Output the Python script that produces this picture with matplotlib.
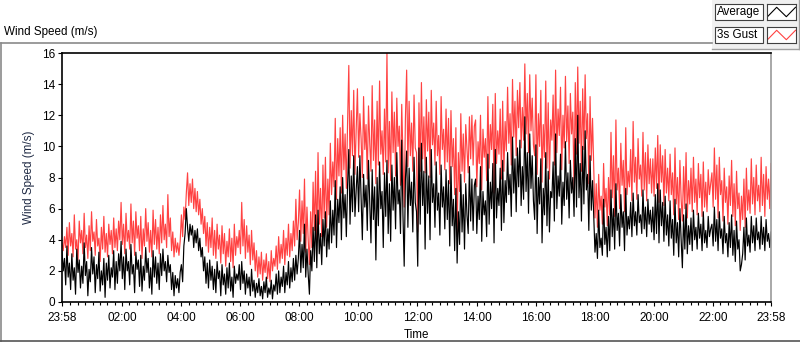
import numpy as np
import matplotlib as mpl; mpl.use('Agg'); import matplotlib.pyplot as plt
from matplotlib.patches import Rectangle
from matplotlib.lines import Line2D
mpl.rcParams.update({'font.family':['Liberation Sans','DejaVu Sans'],'font.size':8.5})

# 2.5-minute samples starting at 23:58, one row = 2 hours (48 samples)
gust=[3.8,3.3,4.2,3.5,4.8,3.0,5.1,3.6,4.4,2.9,5.6,3.4,4.0,2.7,5.2,3.8,4.6,3.1,5.7,3.5,4.3,2.8,4.9,3.3,5.8,3.9,4.5,3.0,5.3,3.6,4.1,2.6,4.8,3.4,5.5,3.2,4.4,2.9,5.0,3.7,4.6,3.1,5.4,3.5,4.7,3.3,5.2,4.0,
      6.4,3.7,5.0,3.1,5.7,3.9,4.6,3.4,6.3,3.8,5.2,3.0,5.8,4.1,4.9,3.3,5.5,2.8,4.7,3.6,6.0,3.9,5.1,3.2,4.6,2.9,5.9,3.7,5.3,3.4,4.8,3.1,5.6,3.8,6.2,4.0,5.0,3.5,6.9,4.2,5.4,3.3,4.5,2.9,4.1,3.2,3.8,3.0,
      3.9,5.6,4.2,6.1,5.3,7.0,8.3,6.2,7.6,6.4,7.9,6.0,7.3,5.8,7.1,5.6,6.6,5.0,6.0,4.4,5.5,3.6,5.1,3.2,4.8,3.5,5.4,3.0,4.6,2.8,5.0,3.4,4.3,2.5,4.9,3.1,4.4,2.3,3.9,2.9,4.7,2.6,4.1,2.2,5.0,3.0,4.2,3.5,
      4.6,3.1,6.4,3.6,5.3,2.8,4.9,3.2,4.3,2.4,4.6,2.7,3.8,2.0,3.3,1.6,2.9,1.8,3.2,1.4,2.7,1.9,3.1,1.5,2.6,1.3,3.3,2.0,2.8,2.3,3.6,2.1,4.2,2.5,3.7,2.8,4.6,2.4,4.1,3.0,5.0,2.9,4.4,3.3,5.2,3.6,6.6,4.0,
      5.1,7.2,3.9,6.5,4.4,7.9,3.2,6.1,4.0,2.4,5.8,3.5,7.7,4.6,8.4,3.8,9.6,5.0,7.3,4.2,8.8,5.4,9.3,4.8,7.9,5.6,10.2,6.9,9.0,7.4,11.8,6.6,10.5,8.1,11.2,7.0,12.0,8.5,10.8,7.3,11.5,15.2,8.6,12.3,9.4,13.6,8.2,11.1,
      13.7,9.3,12.1,10.5,8.0,13.2,9.8,11.4,7.9,12.6,10.2,8.4,13.9,9.1,11.7,7.6,12.9,8.8,14.2,9.5,11.0,8.2,12.4,9.0,16.0,8.3,11.6,7.8,13.5,9.6,12.2,8.1,13.1,10.0,11.3,7.5,12.7,9.2,6.1,11.8,14.9,8.7,12.9,9.4,11.5,8.4,13.3,9.9,
      9.6,4.5,12.8,8.4,14.1,9.2,11.9,8.3,13.0,9.7,12.2,8.0,13.6,10.1,11.5,8.8,12.9,9.4,10.7,8.2,13.2,9.8,11.1,8.5,12.4,9.0,11.8,7.6,12.3,8.7,10.5,6.9,11.2,4.2,9.6,7.1,12.1,8.4,10.8,7.7,11.4,9.9,8.3,11.9,9.2,12.0,8.8,11.3,
      11.7,7.4,10.3,8.9,12.0,7.2,11.1,9.3,10.5,7.8,13.2,8.6,11.4,9.8,12.7,7.0,13.4,8.9,11.0,9.5,12.4,7.9,12.9,8.4,11.6,9.7,13.8,10.2,12.1,8.8,14.3,10.6,12.9,9.4,13.6,11.2,14.1,9.9,12.5,10.4,15.3,10.8,13.4,9.6,14.6,11.0,13.1,10.1,
      9.4,14.6,8.2,12.1,10.0,13.6,7.7,11.4,9.3,14.2,8.6,12.8,7.9,11.7,10.4,13.3,8.8,14.9,9.6,12.4,10.7,13.8,8.5,12.0,9.9,14.5,10.3,12.6,8.9,13.4,10.8,12.2,7.2,14.1,9.5,15.1,10.2,12.9,8.4,13.7,9.8,14.6,10.5,12.1,7.6,13.2,9.1,11.8,
      8.7,5.4,7.6,4.8,8.2,5.9,6.8,5.0,8.9,6.1,7.3,4.9,8.0,5.6,10.9,6.7,9.4,5.5,11.7,7.2,8.6,6.0,10.2,7.5,9.1,5.8,11.2,6.9,8.4,7.4,9.8,6.5,11.6,7.7,9.3,6.6,10.5,7.9,8.8,6.8,10.9,7.2,9.6,6.5,10.1,7.6,9.2,7.0,
      9.2,6.8,9.9,7.3,10.7,6.4,10.1,7.7,9.4,6.2,9.8,7.0,8.6,6.5,9.5,6.9,8.3,5.6,9.9,6.3,8.0,5.3,9.1,6.6,5.2,8.7,6.0,9.6,5.4,7.8,6.3,8.6,5.8,9.3,6.4,7.9,5.6,8.9,6.7,8.2,5.5,9.0,6.1,7.7,5.8,8.5,6.9,7.6,
      8.3,6.1,9.9,6.6,8.8,5.4,9.3,6.9,7.8,5.2,8.6,6.4,7.4,5.0,8.1,6.2,9.1,5.5,7.6,4.9,8.4,6.0,7.0,4.6,6.8,5.3,7.9,4.8,8.6,5.9,7.2,5.7,9.2,6.3,8.0,5.6,8.8,6.5,7.5,5.8,9.3,6.2,8.2,5.5,8.7,6.6,7.9,6.0,8.9]
average=[3.3,2.0,2.8,1.1,3.6,1.6,2.5,0.8,3.1,1.4,2.2,0.5,3.4,1.9,2.7,0.9,2.3,1.2,3.8,1.7,2.6,0.4,2.1,1.3,3.5,1.8,2.9,0.6,2.4,1.5,3.2,0.7,2.0,1.1,2.8,0.3,2.5,1.4,3.0,0.9,2.2,1.6,3.3,0.8,2.6,1.2,3.1,2.0,
         3.9,1.5,2.9,0.8,3.4,2.0,2.6,1.1,3.7,1.8,2.4,0.6,3.2,2.1,2.7,1.0,3.0,0.7,2.3,1.4,3.5,1.9,2.8,0.9,2.2,0.5,3.3,1.6,2.9,1.2,2.5,0.8,3.1,1.7,3.4,2.0,2.6,1.3,3.0,1.9,2.4,0.8,1.9,0.4,1.7,0.9,1.5,0.6,
         1.9,2.4,1.3,3.6,4.4,6.0,4.8,3.9,5.0,4.3,4.9,3.5,4.6,3.8,4.7,3.3,4.1,2.9,3.5,2.0,2.9,1.2,2.5,0.9,2.7,1.4,2.3,0.8,2.1,0.6,2.6,1.5,2.0,0.4,2.4,1.1,1.8,0.5,2.2,0.9,2.5,0.7,1.6,0.3,2.3,1.2,1.8,1.4,
         2.4,0.8,2.6,1.2,2.0,0.5,1.8,0.9,1.6,0.4,2.1,0.7,1.4,0.3,1.2,0.6,1.5,0.4,1.0,0.2,1.3,0.6,1.6,0.3,0.9,0.5,1.4,0.2,1.1,0.7,1.8,0.5,2.0,0.6,1.6,1.0,2.3,0.6,1.9,1.1,2.6,0.9,2.2,1.3,2.8,1.4,3.0,1.8,
         2.8,4.6,1.9,3.7,2.2,5.0,1.6,3.4,1.8,0.5,3.3,2.0,4.8,2.6,5.6,2.2,5.9,3.1,4.4,2.4,5.3,3.6,5.8,2.9,4.7,3.4,6.5,3.8,5.9,4.3,7.8,3.5,6.6,5.1,7.4,4.0,8.0,5.4,6.9,4.2,7.5,9.8,5.0,8.1,5.8,9.4,5.5,7.2,
         8.7,5.8,9.4,6.8,4.0,8.2,6.1,7.5,4.6,9.1,6.4,3.8,8.5,5.3,7.4,2.7,8.0,4.9,9.0,6.0,7.1,3.5,8.3,5.5,9.1,4.4,7.6,3.9,8.8,5.9,8.0,4.7,9.6,6.3,7.2,4.4,10.4,5.6,2.3,7.9,9.7,4.8,8.6,6.2,7.7,4.5,9.3,6.4,
         5.8,2.3,9.9,5.0,10.2,6.2,8.4,3.4,9.3,5.7,8.1,4.0,9.8,6.4,7.6,4.8,9.0,5.9,7.0,4.3,8.8,6.1,7.4,4.7,8.5,5.3,7.8,3.6,8.7,4.9,6.6,3.3,7.3,2.5,5.8,3.7,8.2,4.5,6.9,3.4,7.6,5.6,4.4,8.7,5.2,7.9,4.6,7.5,
         7.9,4.4,6.8,5.3,8.7,3.9,7.1,5.6,6.5,4.2,9.5,5.0,7.7,6.0,8.9,3.8,9.8,5.4,7.3,6.2,8.6,4.6,9.1,5.1,7.8,6.4,9.6,6.9,8.2,5.5,10.6,7.0,9.2,5.8,9.9,7.4,10.4,6.2,8.7,6.6,11.9,7.1,9.6,5.7,10.8,7.3,9.4,6.5,
         5.3,10.1,4.4,8.0,6.3,9.2,3.8,7.3,5.6,9.6,4.9,8.4,4.5,7.1,6.7,9.0,5.2,10.8,6.0,8.1,6.8,9.5,5.0,7.7,6.2,10.3,6.6,8.3,5.4,9.1,7.0,8.0,5.5,10.5,6.1,12.0,6.7,8.9,5.2,10.0,6.3,11.0,7.2,8.2,4.6,9.4,5.9,7.8,
         5.4,3.2,4.4,2.8,5.9,3.5,4.1,3.0,6.6,3.7,4.8,2.9,5.5,3.3,7.2,4.2,6.0,3.4,7.6,4.6,5.7,3.6,6.9,4.8,5.8,3.3,7.3,4.3,5.5,4.7,6.4,4.2,7.0,4.9,5.8,4.3,6.9,5.1,5.6,4.4,7.2,4.7,6.1,4.2,6.6,5.0,5.9,4.5,
         6.1,4.0,6.9,4.4,7.6,3.8,7.2,4.9,6.4,3.9,6.8,4.3,5.6,3.6,6.5,4.1,5.3,3.0,6.6,3.8,5.1,2.9,6.0,4.0,2.2,5.6,3.4,6.3,3.1,4.9,3.7,5.4,3.3,5.9,4.0,4.8,3.4,5.7,4.1,5.0,3.3,5.8,3.8,4.6,3.5,5.5,4.2,4.7,
         5.0,3.6,6.1,3.9,5.3,3.3,5.8,4.1,4.7,3.1,5.5,3.8,4.4,2.9,5.1,3.5,5.6,3.0,4.6,2.6,5.2,3.4,4.0,2.0,2.4,3.1,4.8,2.7,5.4,3.6,4.3,3.2,5.5,3.8,4.9,3.3,5.4,4.0,4.5,3.4,5.5,3.7,4.8,3.3,5.3,3.9,4.4,3.5,4.5]
step_min=2.5
tick_min=[0,122,242,362,482,602,722,842,962,1082,1202,1322,1440]
tick_lab=['23:58','02:00','04:00','06:00','08:00','10:00','12:00','14:00','16:00','18:00','20:00','22:00','23:58']
RED='#ff4242'
assert len(gust)==len(average), (len(gust),len(average))

t=np.arange(len(gust))*step_min
fig=plt.figure(figsize=(8,3.42),dpi=100)
W,H=800,342
def fx(px): return px/W
def fy(py): return 1-py/H

# outer frame + header
fig.add_artist(Line2D([fx(0.5),fx(712)],[fy(42.5),fy(42.5)],color='#8a8a8a',lw=1.2))
fig.add_artist(Line2D([fx(0.7),fx(0.7)],[fy(42.5),fy(341)],color='#8a8a8a',lw=1.2))
fig.add_artist(Line2D([fx(0),fx(800)],[fy(340.6),fy(340.6)],color='#555555',lw=1.2))
fig.text(fx(4),fy(32),'Wind Speed (m/s)',ha='left',va='center',fontsize=8.4)

# legend panel
fig.add_artist(Rectangle((fx(712),fy(49)),fx(87),49/H,facecolor='#f0f0f0',edgecolor='none',zorder=-1))
fig.add_artist(Line2D([fx(712),fx(799)],[fy(49),fy(49)],color='#a0a0a0',lw=1))
fig.add_artist(Line2D([fx(799),fx(799)],[fy(0),fy(49)],color='#a0a0a0',lw=1))
for lab,col,y0 in [('Average','black',4),('3s Gust',RED,27)]:
    fig.add_artist(Rectangle((fx(715),fy(y0+16)),fx(48),16/H,facecolor='white',edgecolor='#404040',lw=0.8,zorder=-0.5))
    fig.text(fx(717),fy(y0+8.5),lab,ha='left',va='center',fontsize=8.4)
    ia=fig.add_axes([fx(767),fy(y0+16),fx(29),16/H],zorder=3)
    ia.set_xlim(0,3); ia.set_ylim(-0.35,1.35)
    ia.plot([0.05,1,2,2.95],[0,1,0,1],color=col,lw=0.8)
    ia.set_xticks([]); ia.set_yticks([])
    for s in ia.spines.values(): s.set_color('#404040'); s.set_linewidth(0.8)

# main chart
ax=fig.add_axes([fx(62),fy(302),fx(709),249/H])
ax.plot(t,gust,color=RED,lw=0.85)
ax.plot(t,average,color='black',lw=0.85)
ax.set_xlim(0,1440); ax.set_ylim(0,16)
ax.set_yticks(range(0,17,2))
ax.set_xticks(tick_min); ax.set_xticklabels(tick_lab)
ax.set_xticks(np.arange(17,1440,15),minor=True)
ax.tick_params(axis='both',which='major',direction='out',length=3,width=0.8,labelsize=8.5,pad=2)
ax.tick_params(axis='x',which='major',pad=4)
ax.tick_params(axis='x',which='minor',direction='out',length=2,width=0.8)
for k in ['top','left','bottom']: ax.spines[k].set_linewidth(1.2)
ax.spines['right'].set_color('#9a9a9a'); ax.spines['right'].set_linewidth(1.2)
ax.set_xlabel('Time',fontsize=8.4,labelpad=4)
ax.set_ylabel('Wind Speed (m/s)',fontsize=8.4,color='#1f2a44',labelpad=5)

fig.savefig('out.png',dpi=100)
